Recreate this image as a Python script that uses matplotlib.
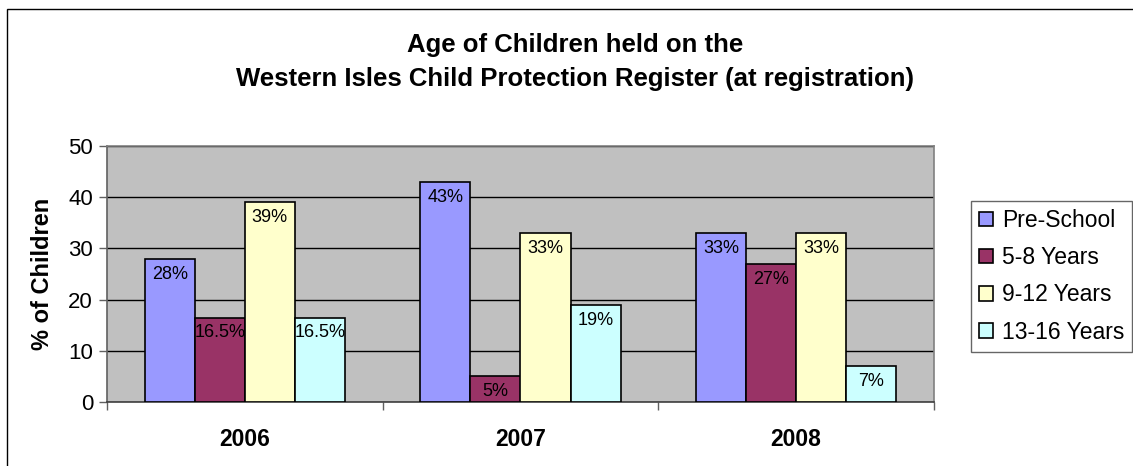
import matplotlib
matplotlib.use("Agg")
import matplotlib.pyplot as plt
from matplotlib.patches import Rectangle
import numpy as np

plt.rcParams['font.family'] = ['Liberation Sans', 'DejaVu Sans']

years = ["2006", "2007", "2008"]
series_names = ["Pre-School", "5-8 Years", "9-12 Years", "13-16 Years"]
pre_school = [28, 43, 33]
years_5_8 = [16.5, 5, 27]
years_9_12 = [39, 33, 33]
years_13_16 = [16.5, 19, 7]
series_values = [pre_school, years_5_8, years_9_12, years_13_16]
colors = ["#9999FF", "#993366", "#FFFFCC", "#CCFFFF"]
y_ticks = [0, 10, 20, 30, 40, 50]

W, H = 1133, 466
fig = plt.figure(figsize=(W / 100, H / 100), dpi=100)
fig.patch.set_facecolor("white")

# outer chart border
fig.patches.append(Rectangle((7 / W, -0.1), 1.2, 1 - 9 / H + 0.1,
                             transform=fig.transFigure, fill=False,
                             edgecolor="black", linewidth=1.0))

ax = fig.add_axes([107 / W, 1 - 402 / H, (934 - 107) / W, (402 - 146) / H])
ax.set_facecolor("#C0C0C0")

n = len(series_values)
bw = 1 / 5.5
x = np.arange(len(years))
for i, (name, vals, c) in enumerate(zip(series_names, series_values, colors)):
    pos = x + (i - (n - 1) / 2) * bw
    bars = ax.bar(pos, vals, width=bw, color=c, edgecolor="black",
                  linewidth=1.2, label=name, zorder=3)
    for b, v in zip(bars, vals):
        ax.annotate(f"{v:g}%", (b.get_x() + b.get_width() / 2, v),
                    xytext=(0, -5), textcoords="offset points",
                    ha="center", va="top", fontsize=13, zorder=4)

ax.set_xlim(-0.5, len(years) - 0.5)
ax.set_ylim(0, 50)
ax.set_yticks(y_ticks)
ax.yaxis.grid(True, color="black", linewidth=1.0, zorder=1)
ax.set_axisbelow(True)
ax.tick_params(axis="y", labelsize=16, length=6, width=1, color="#606060", pad=4)

ax.set_xticks(x)
ax.set_xticklabels(years, fontsize=16.5, fontweight="bold")
ax.tick_params(axis="x", length=0, pad=19)
ax.set_xticks(np.arange(len(years) + 1) - 0.5, minor=True)
ax.tick_params(axis="x", which="minor", length=6, width=1, color="#606060")

for side in ["top", "right"]:
    ax.spines[side].set_color("#808080")
    ax.spines[side].set_linewidth(1.2)
ax.spines["left"].set_color("#606060")
ax.spines["bottom"].set_color("#404040")
ax.spines["left"].set_linewidth(1.2)
ax.spines["bottom"].set_linewidth(1.2)

ax.set_ylabel("% of Children", fontsize=17, fontweight="bold", labelpad=10)

fig.text(575 / W, 1 - 52 / H, "Age of Children held on the", ha="center",
         va="baseline", fontsize=18.5, fontweight="bold")
fig.text(575 / W, 1 - 86 / H,
         "Western Isles Child Protection Register (at registration)",
         ha="center", va="baseline", fontsize=18.5, fontweight="bold")

leg = fig.legend(loc="upper left", bbox_to_anchor=(971 / W, 1 - 201 / H),
                 fontsize=16.5, frameon=True, fancybox=False,
                 handlelength=0.6, handleheight=0.6, handletextpad=0.4,
                 labelspacing=0.62, borderpad=0.35, borderaxespad=0)
leg.get_frame().set_edgecolor("#404040")
leg.get_frame().set_linewidth(1.0)

fig.savefig("out.png", dpi=100)
